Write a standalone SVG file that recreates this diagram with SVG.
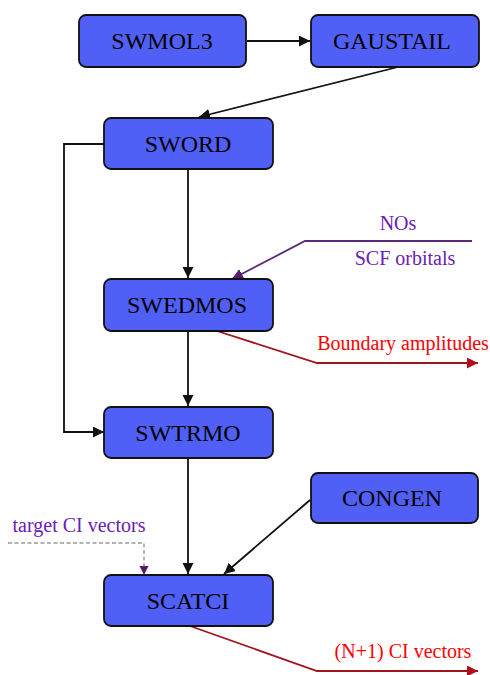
<svg xmlns="http://www.w3.org/2000/svg" width="490" height="675" viewBox="0 0 490 675">
<style>
.box{fill:#5060f6;stroke:#111;stroke-width:1.8}
.lbl{font-family:"Liberation Serif",serif;font-size:24px;fill:#000;text-anchor:middle}
.note{font-family:"Liberation Serif",serif;font-size:20px}
.c{fill:none;stroke:#111;stroke-width:1.8}
.p{fill:none;stroke:#5a2a78;stroke-width:1.8}
.r{fill:none;stroke:#a0141e;stroke-width:1.8}
</style>
<defs>
<marker id="ab" viewBox="0 0 10 10" refX="10" refY="5" markerWidth="11" markerHeight="11" markerUnits="userSpaceOnUse" orient="auto"><path d="M0,0L10,5L0,10z" fill="#111"/></marker>
<marker id="ap" viewBox="0 0 10 10" refX="10" refY="5" markerWidth="11" markerHeight="11" markerUnits="userSpaceOnUse" orient="auto"><path d="M0,0L10,5L0,10z" fill="#5a1a6e"/></marker>
<marker id="ar" viewBox="0 0 10 10" refX="10" refY="5" markerWidth="11" markerHeight="11" markerUnits="userSpaceOnUse" orient="auto"><path d="M0,0L10,5L0,10z" fill="#b0101a"/></marker>
</defs>
<rect width="490" height="675" fill="#fff"/>
<g id="connectors">
<line class="c" x1="247" y1="41" x2="310" y2="41" marker-end="url(#ab)"/>
<line class="c" x1="398" y1="67" x2="199" y2="117" marker-end="url(#ab)"/>
<line class="c" x1="188" y1="169" x2="188" y2="278" marker-end="url(#ab)"/>
<polyline class="c" points="104,144 64,144 64,432 104,432" marker-end="url(#ab)"/>
<line class="c" x1="188" y1="331" x2="188" y2="406" marker-end="url(#ab)"/>
<line class="c" x1="188" y1="458" x2="188" y2="574" marker-end="url(#ab)"/>
<line class="c" x1="310" y1="500" x2="224" y2="574" marker-end="url(#ab)"/>
<polyline class="p" points="472,241 305,241 232,279" marker-end="url(#ap)"/>
<polyline class="r" points="217,331 317,363 478,363" marker-end="url(#ar)"/>
<polyline fill="none" stroke="#999" stroke-width="1.4" stroke-dasharray="4,2.5" points="8,543 144,543 144,570"/>
<path d="M139.5,566L148.5,566L144,575z" fill="#5a1a6e"/>
<polyline class="r" points="190,626 317,671 478,671" marker-end="url(#ar)"/>
</g>
<g id="SWMOL3"><rect class="box" x="79" y="15" width="167" height="52" rx="7"/><text class="lbl" x="162" y="49">SWMOL3</text></g>
<g id="GAUSTAIL"><rect class="box" x="311" y="15" width="168" height="52" rx="7"/><text class="lbl" x="392" y="49">GAUSTAIL</text></g>
<g id="SWORD"><rect class="box" x="104" y="118" width="169" height="51" rx="7"/><text class="lbl" x="188" y="152">SWORD</text></g>
<g id="SWEDMOS"><rect class="box" x="104" y="279" width="169" height="52" rx="7"/><text class="lbl" x="187" y="313">SWEDMOS</text></g>
<g id="SWTRMO"><rect class="box" x="104" y="407" width="169" height="51" rx="7"/><text class="lbl" x="188" y="441">SWTRMO</text></g>
<g id="CONGEN"><rect class="box" x="311" y="473" width="167" height="50" rx="7"/><text class="lbl" x="392" y="506">CONGEN</text></g>
<g id="SCATCI"><rect class="box" x="104" y="575" width="169" height="51" rx="7"/><text class="lbl" x="188" y="609">SCATCI</text></g>
<g id="labels">
<text class="note" x="398" y="230" fill="#6a20b8" text-anchor="middle">NOs</text>
<text class="note" x="405" y="265" fill="#6a20b8" text-anchor="middle">SCF orbitals</text>
<text class="note" x="403" y="350" fill="#ff0000" text-anchor="middle">Boundary amplitudes</text>
<text class="note" x="79" y="532" fill="#6a20b8" text-anchor="middle">target CI vectors</text>
<text class="note" x="403" y="658" fill="#ff0000" text-anchor="middle">(N+1) CI vectors</text>
</g>
</svg>
